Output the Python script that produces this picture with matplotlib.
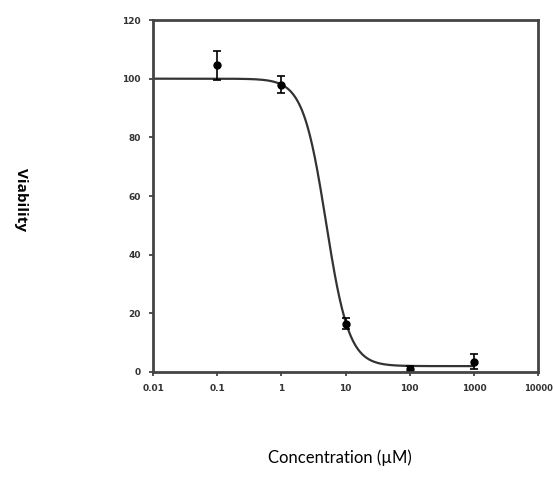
import matplotlib.pyplot as plt
import numpy as np

# measured points (concentration in uM, viability %)
conc = [0.1, 1, 10, 100, 1000]
viab = [104.5, 98.0, 16.5, 1.0, 3.5]
err = [5.0, 3.0, 2.0, 1.0, 2.5]

# four-parameter logistic fit
top, bottom, ic50, hill = 100.0, 2.0, 4.95, 2.42

xfit = np.logspace(-2, 3, 400)
yfit = bottom + (top - bottom) / (1 + (xfit / ic50) ** hill)

fig = plt.figure(figsize=(5.53, 4.86), dpi=100)
ax = fig.add_axes([0.277, 0.2346, 0.696, 0.7242])

ax.plot(xfit, yfit, color='#333333', lw=1.6)
ax.errorbar(conc, viab, yerr=err, fmt='o', color='black', ms=5,
            capsize=3, elinewidth=1.2, capthick=1.2)

ax.set_xscale('log')
ax.set_xlim(0.01, 10000)
ax.set_ylim(0, 120)
ax.set_yticks(np.arange(0, 121, 20))
ax.set_xticks([0.01, 0.1, 1, 10, 100, 1000, 10000])
ax.set_xticklabels(['0.01', '0.1', '1', '10', '100', '1000', '10000'])
ax.minorticks_off()
for s in ax.spines.values():
    s.set_linewidth(2)
    s.set_color('#444444')
ax.tick_params(direction='out', length=3, width=1.2, labelsize=6.5, colors='#333333', pad=6)
for lab in ax.get_xticklabels() + ax.get_yticklabels():
    lab.set_fontweight('bold')
ax.get_xticklabels()[-1].set_fontsize(6)

fig.text(0.038, 0.59, 'Viability', rotation=-90, ha='center', va='center',
         fontsize=11, fontweight='bold', family='Open Sans')
fig.text(0.615, 0.058, 'Concentration (µM)', ha='center', va='center',
         fontsize=12, family='Lato')

fig.savefig('out.png', dpi=100)
